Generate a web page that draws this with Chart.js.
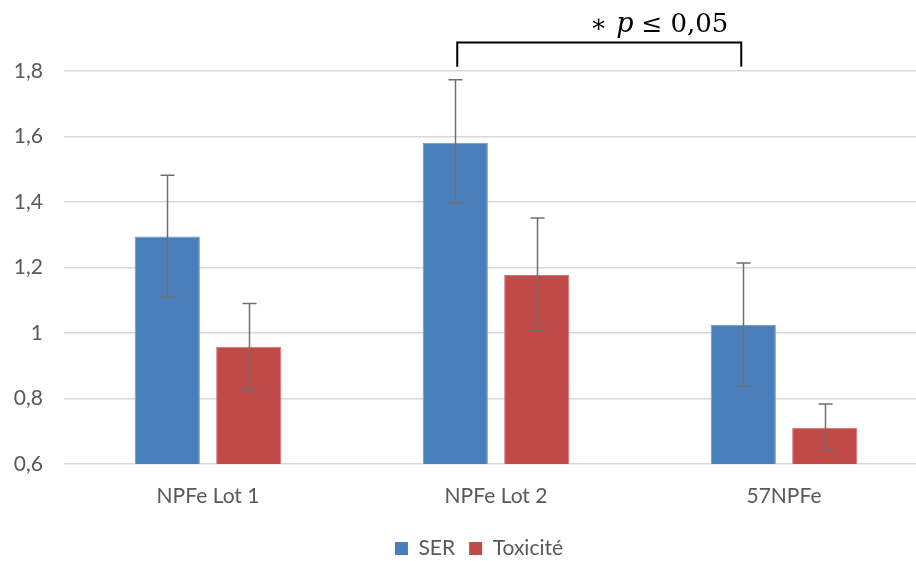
<!DOCTYPE html>
<html>
<head>
<meta charset="utf-8">
<script src="https://cdn.jsdelivr.net/npm/chart.js@4.4.1/dist/chart.umd.min.js"></script>
<style>
  html, body { margin: 0; padding: 0; background: #fff; overflow: hidden; }
  #wrap { position: relative; width: 936px; height: 561px; }
</style>
</head>
<body>
<div id="wrap"><canvas id="chart"></canvas></div>
<script>
const categories = ["NPFe Lot 1", "NPFe Lot 2", "57NPFe"];

const serValues = [1.295, 1.581, 1.025];
const serErrLow = [1.11, 1.397, 0.838];
const serErrHigh = [1.482, 1.773, 1.214];

const toxValues = [0.958, 1.177, 0.711];
const toxErrLow = [0.827, 1.008, 0.643];
const toxErrHigh = [1.09, 1.351, 0.783];

const yTicks = [0.6, 0.8, 1.0, 1.2, 1.4, 1.6, 1.8];

// significance bracket between SER of lot 2 and SER of 57NPFe
const sigFrom = 1;
const sigTo = 2;
const sigTop = 1.887;
const sigFoot = 1.813;

const labelColor = "#595959";
const gridColor = "#d9d9d9";

const errorBars = {
  id: "errorBars",
  afterDatasetsDraw(chart) {
    const ctx = chart.ctx;
    const y = chart.scales.y;
    const errs = [[serErrLow, serErrHigh], [toxErrLow, toxErrHigh]];
    ctx.save();
    ctx.strokeStyle = "#6f6f6f";
    ctx.lineWidth = 1.5;
    chart.data.datasets.forEach((ds, d) => {
      const meta = chart.getDatasetMeta(d);
      meta.data.forEach((bar, i) => {
        const lo = y.getPixelForValue(errs[d][0][i]);
        const hi = y.getPixelForValue(errs[d][1][i]);
        const x = Math.round(bar.x) + 0.5;
        ctx.beginPath();
        ctx.moveTo(x, lo);
        ctx.lineTo(x, hi);
        ctx.moveTo(x - 7, hi);
        ctx.lineTo(x + 7, hi);
        ctx.moveTo(x - 7, lo);
        ctx.lineTo(x + 7, lo);
        ctx.stroke();
      });
    });
    ctx.restore();
  }
};

const sigBracket = {
  id: "sigBracket",
  afterDraw(chart) {
    const ctx = chart.ctx;
    const y = chart.scales.y;
    const meta = chart.getDatasetMeta(0);
    const x1 = meta.data[sigFrom].x + 2;
    const x2 = meta.data[sigTo].x - 2;
    const yt = y.getPixelForValue(sigTop);
    const yf = y.getPixelForValue(sigFoot);
    ctx.save();
    ctx.strokeStyle = "#000";
    ctx.lineWidth = 2;
    ctx.beginPath();
    ctx.moveTo(x1, yf);
    ctx.lineTo(x1, yt);
    ctx.lineTo(x2, yt);
    ctx.lineTo(x2, yf);
    ctx.stroke();

    ctx.fillStyle = "#000";
    ctx.textBaseline = "alphabetic";
    const base = yt - 11;
    let x = (x1 + x2) / 2 - 9;
    const parts = [
      ["∗", "25px 'DejaVu Serif'", 9],
      ["p", "italic 27px 'DejaVu Serif'", 8],
      ["≤", "25px 'DejaVu Serif'", 8],
      ["0,05", "26px 'DejaVu Serif'", 0]
    ];
    parts.forEach(([t, f, gap]) => {
      ctx.font = f;
      ctx.fillText(t, x, base);
      x += ctx.measureText(t).width + gap;
    });
    ctx.restore();
  }
};

const shiftLegend = {
  id: "shiftLegend",
  afterLayout(chart) {
    const lg = chart.legend;
    lg.left += 15;
    lg.right += 15;
    lg.top += 12;
    lg.bottom += 12;
  }
};

new Chart(document.getElementById("chart"), {
  type: "bar",
  data: {
    labels: categories,
    datasets: [
      {
        label: "SER",
        data: serValues,
        backgroundColor: "#4a7ebb",
        borderColor: "#6f98cc",
        borderWidth: 1
      },
      {
        label: "Toxicité",
        data: toxValues,
        backgroundColor: "#be4b48",
        borderColor: "#d27472",
        borderWidth: 1
      }
    ]
  },
  options: {
    responsive: true,
    maintainAspectRatio: false,
    animation: false,
    datasets: {
      bar: { barPercentage: 0.8, categoryPercentage: 0.566 }
    },
    layout: { padding: { top: 71, right: 8, left: 0, bottom: 4 } },
    scales: {
      x: {
        grid: { display: false },
        border: { display: false },
        ticks: {
          color: labelColor,
          font: { family: "Lato", size: 21 },
          padding: 12
        },
        afterFit(scale) { scale.height = 48; }
      },
      y: {
        min: 0.6,
        max: 1.8,
        afterBuildTicks(scale) {
          scale.ticks = yTicks.map(v => ({ value: v }));
        },
        grid: { color: gridColor, lineWidth: 1.5, drawTicks: false },
        border: { display: false },
        ticks: {
          color: labelColor,
          font: { family: "Lato", size: 21 },
          padding: 21,
          callback: v => String(v).replace(".", ",")
        },
        afterFit(scale) { scale.width = 64; }
      }
    },
    plugins: {
      legend: {
        position: "bottom",
        labels: {
          color: labelColor,
          font: { family: "Lato", size: 21 },
          boxWidth: 13,
          boxHeight: 13,
          padding: 14,
          generateLabels(chart) {
            return chart.data.datasets.map((ds, i) => ({
              text: ds.label,
              fillStyle: ds.backgroundColor,
              strokeStyle: ds.backgroundColor,
              lineWidth: 0,
              datasetIndex: i,
              fontColor: labelColor
            }));
          }
        }
      },
      tooltip: { enabled: false }
    }
  },
  plugins: [errorBars, sigBracket, shiftLegend]
});
</script>
</body>
</html>
